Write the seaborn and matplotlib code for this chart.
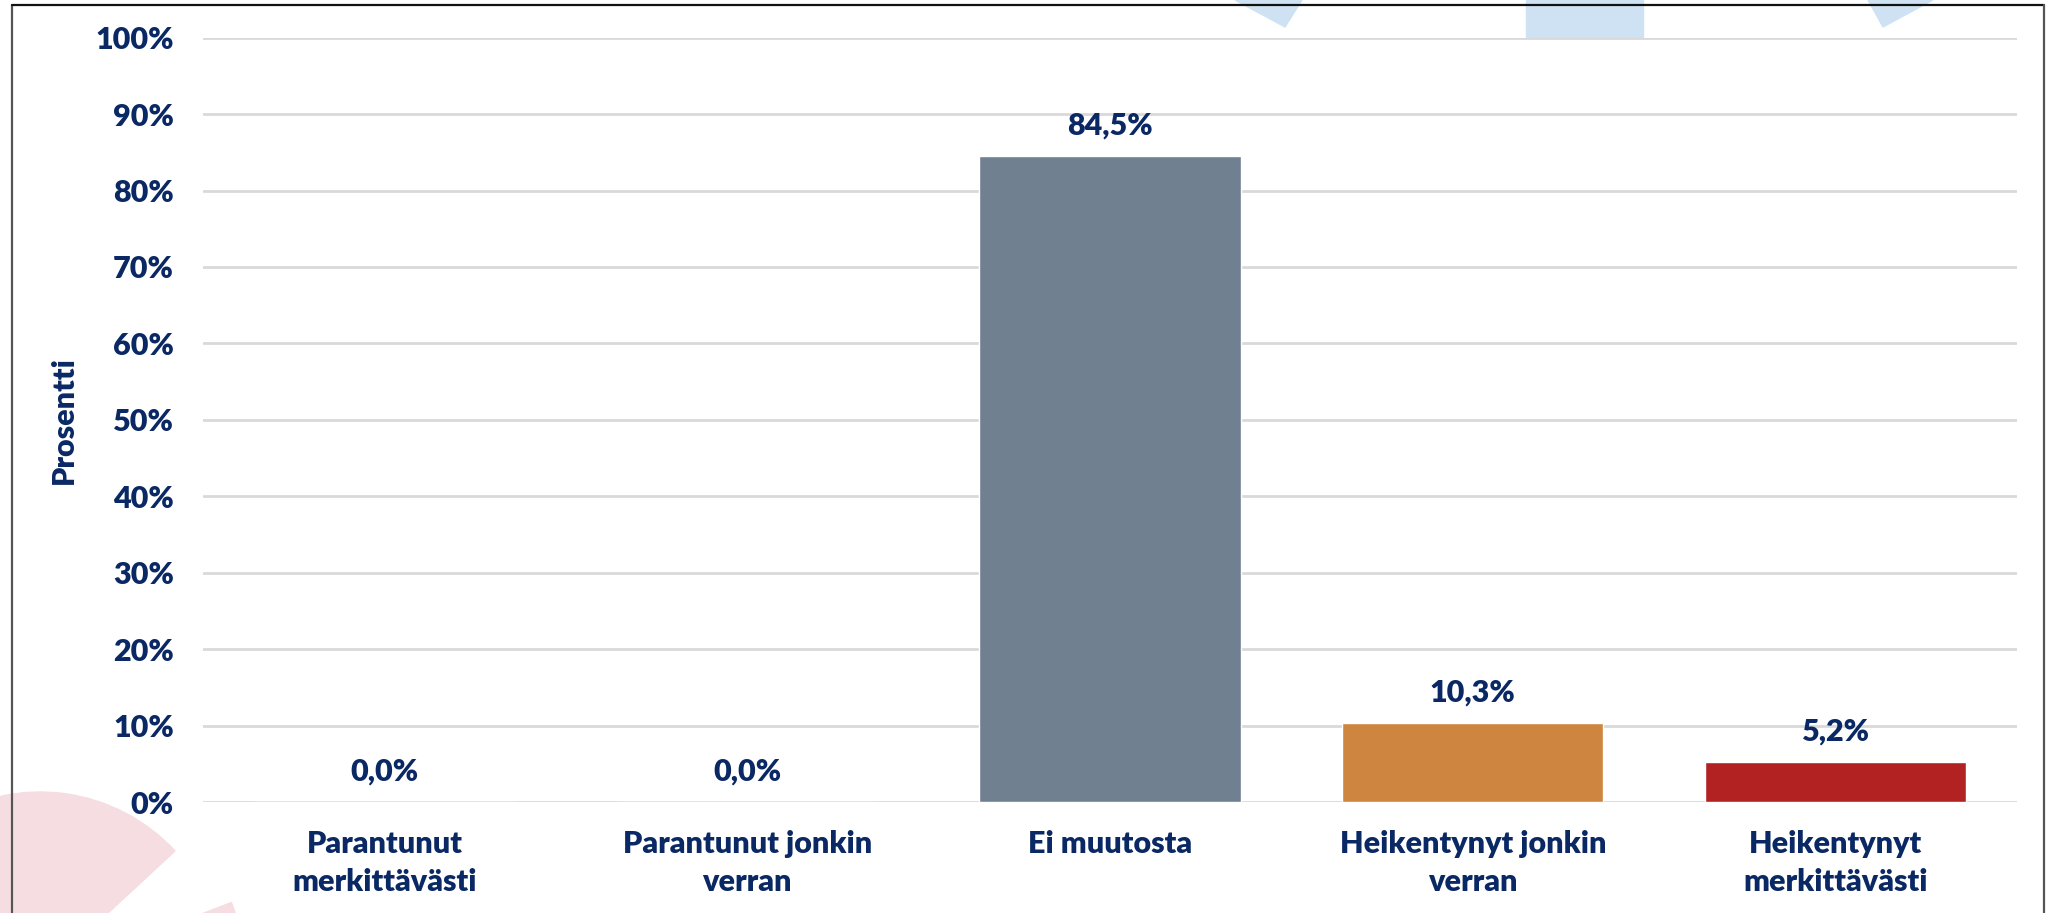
import numpy as np
import pandas as pd
import matplotlib
matplotlib.use("Agg")
import matplotlib.pyplot as plt
import seaborn as sns
from matplotlib.patches import Polygon, Rectangle, Wedge
from matplotlib.lines import Line2D
from matplotlib.transforms import IdentityTransform

# Données
categories = ["Parantunut\nmerkittävästi", "Parantunut jonkin\nverran", "Ei muutosta",
              "Heikentynyt jonkin\nverran", "Heikentynyt\nmerkittävästi"]
values = [0.0, 0.0, 84.5, 10.3, 5.2]
colors = ["#3A8F5C", "#8DBF8F", "#708090", "#CD853F", "#B22222"]
yticks = [0, 10, 20, 30, 40, 50, 60, 70, 80, 90, 100]

navy = "#0A2864"
fs = 22

sns.set_style("white")
plt.rcParams["font.family"] = ["Lato", "DejaVu Sans"]
plt.rcParams["font.weight"] = "heavy"

W, H = 2055, 913
fig = plt.figure(figsize=(W / 100, H / 100), dpi=100)
fig.patch.set_facecolor("white")

# Décor de fond (formes pâles du modèle de diapositive)
blue = "#CFE2F3"
pink = "#F5DDE1"
fig.add_artist(Polygon([(1235, H), (1302, H), (1285, H - 27)], closed=True,
                       transform=IdentityTransform(), color=blue, zorder=0))
fig.add_artist(Polygon([(1868, H), (1933, H), (1883, H - 27)], closed=True,
                       transform=IdentityTransform(), color=blue, zorder=0))
fig.add_artist(Rectangle((1526, H - 37), 117, 37, transform=IdentityTransform(),
                         color=blue, zorder=0))
fig.add_artist(Wedge((40, -63), 184, 42.8, 200, transform=IdentityTransform(),
                     color=pink, zorder=0))
fig.add_artist(Wedge((40, -63), 205, 5, 21, transform=IdentityTransform(),
                     color=pink, zorder=0))

ax = fig.add_axes([203 / W, 1 - 802 / H, (2017 - 203) / W, (802 - 37.7) / H])
ax.set_facecolor("none")

df = pd.DataFrame({"Kategoria": categories, "Prosentti": values})
sns.barplot(data=df, x="Kategoria", y="Prosentti", hue="Kategoria",
            palette=colors, saturation=1, legend=False, width=0.72, ax=ax, zorder=3)

for cont in ax.containers:
    ax.bar_label(cont, labels=[f"{v:.1f}".replace(".", ",") + "%" for v in cont.datavalues],
                 padding=12, fontsize=fs, fontweight="heavy", color=navy)

ax.set_ylim(0, 100)
ax.set_yticks(yticks)
ax.set_yticklabels([f"{t}%" for t in yticks], fontweight="heavy")
ax.set_xticks(range(len(categories)))
ax.set_xticklabels(categories, fontweight="heavy", linespacing=1.45)
ax.grid(axis="y", color="#D9D9D9", linewidth=2, zorder=0)
ax.set_axisbelow(True)
sns.despine(ax=ax, left=True, bottom=True)
ax.tick_params(axis="both", length=0, labelsize=fs, labelcolor=navy)
ax.tick_params(axis="y", pad=21)
ax.tick_params(axis="x", pad=20)
ax.set_xlabel("")
ax.set_ylabel("Prosentti", fontsize=fs, fontweight="heavy", color=navy)
ax.yaxis.set_label_coords((78 - 203) / (2017 - 203), 0.5)

# Cadre
fig.add_artist(Line2D([12, 12], [0, H - 5], transform=IdentityTransform(), color="#555555", lw=1.6, zorder=5))
fig.add_artist(Line2D([12, 2044], [H - 5, H - 5], transform=IdentityTransform(), color="#111111", lw=1.6, zorder=5))
fig.add_artist(Line2D([2044, 2044], [0, H - 5], transform=IdentityTransform(), color="#555555", lw=1.6, zorder=5))

fig.savefig("out.png", dpi=100)
